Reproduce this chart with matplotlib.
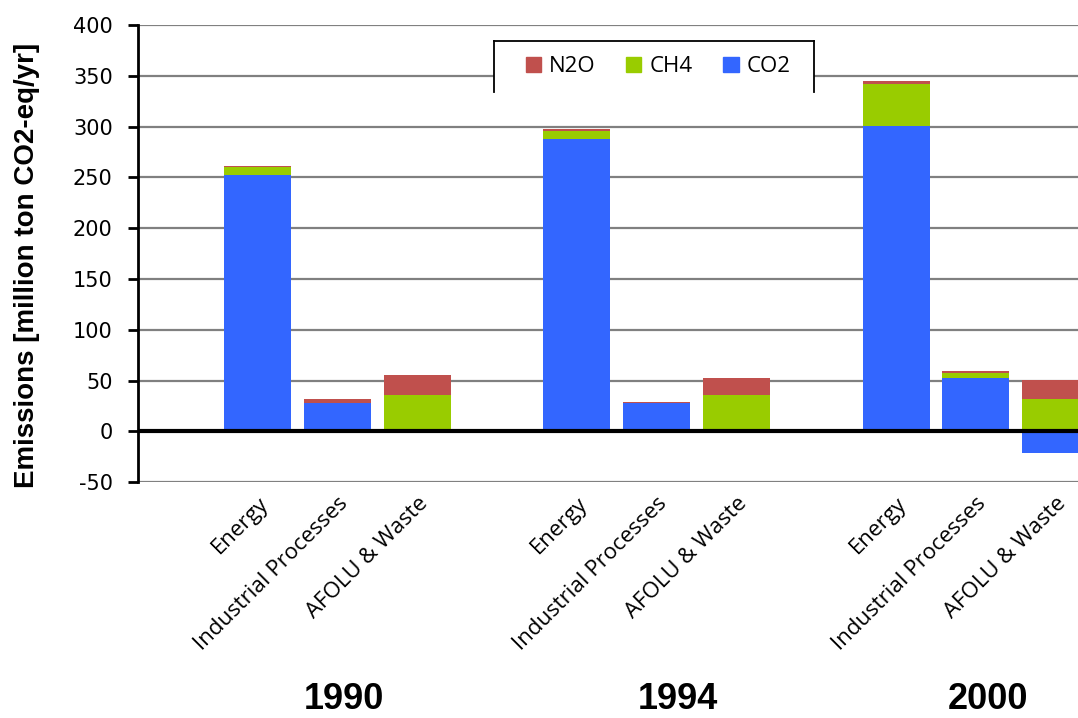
import numpy as np
import matplotlib
matplotlib.use('Agg')
import matplotlib.pyplot as plt
import matplotlib.transforms as mtransforms
from matplotlib.patches import Rectangle, Patch
from matplotlib.lines import Line2D
from matplotlib import font_manager

# data (million ton CO2-eq/yr)
years = ['1990', '1994', '2000']
sectors = ['Energy', 'Industrial Processes', 'AFOLU & Waste']
co2 = [252, 28.5, 0, 288, 28.5, 0, 301, 53, -21]
ch4 = [8, 0, 36, 8, 0, 35.5, 41, 5, 32]
n2o = [1, 3, 20, 2, 1, 17.5, 3, 2, 18.5]

c_n2o = '#C0504D'
c_ch4 = '#99CC00'
c_co2 = '#3366FF'

plt.rcParams['axes.unicode_minus'] = False

# one empty slot before every year group
slots = []
for g in range(len(years)):
    for s in range(len(sectors)):
        slots.append(g * 4 + 1 + s)
slots = np.array(slots)

co2 = np.array(co2, dtype=float)
ch4 = np.array(ch4, dtype=float)
n2o = np.array(n2o, dtype=float)
pos_base = np.clip(co2, 0, None)

installed = {f.name for f in font_manager.fontManager.ttflist}
if 'Liberation Sans Narrow' in installed:
    ylab_font, ylab_size = 'Liberation Sans Narrow', 25
else:
    ylab_font, ylab_size = 'Liberation Sans', 20

W, H = 1078, 718
fig = plt.figure(figsize=(W / 100, H / 100), dpi=100)
ax = fig.add_axes([138 / W, (H - 482.3) / H, 957.6 / W, 457.3 / H])

bw = 0.84
ax.bar(slots, co2, bw, color=c_co2, zorder=2)
ax.bar(slots, ch4, bw, bottom=pos_base, color=c_ch4, zorder=2)
ax.bar(slots, n2o, bw, bottom=pos_base + ch4, color=c_n2o, zorder=2)

ax.axhline(0, color='black', lw=3, zorder=4)

ax.set_xlim(-0.5, 11.5)
ax.set_ylim(-50, 400)
ax.set_yticks(np.arange(-50, 401, 50))
ax.yaxis.grid(True, color='#808080', lw=1.6)
ax.set_axisbelow(True)
for sp in ['top', 'right', 'bottom']:
    ax.spines[sp].set_visible(False)
ax.spines['left'].set_linewidth(2)
ax.tick_params(axis='y', direction='out', length=7.2, width=2, pad=11,
               labelsize=15, colors='black')
for t in ax.get_yticklabels():
    t.set_family('DejaVu Sans')

ax.set_xticks(slots)
ax.set_xticklabels(sectors * len(years), rotation=45, ha='right',
                   rotation_mode='anchor', fontsize=16, family='Open Sans')
ax.tick_params(axis='x', length=0, pad=8)

ax.set_ylabel('Emissions [million ton CO2-eq/yr]', fontsize=ylab_size,
              fontweight='bold', family=ylab_font)
ax.yaxis.set_label_coords((40 - 138) / 957.6, 0.475)

# year labels under each group
year_offsets = [0.08, 0.26, 0.15]
trans = mtransforms.blended_transform_factory(ax.transData, fig.transFigure)
for g, yr in enumerate(years):
    ax.text(g * 4 + 2 + year_offsets[g], 0.001, yr, transform=trans,
            ha='center', va='bottom', fontsize=26, fontweight='bold',
            family='Liberation Sans')

# legend box (open at the bottom, as in the source)
def fx(px):
    return px / W

def fy(py):
    return 1 - py / H

fig.add_artist(Rectangle((fx(494), fy(92)), fx(814) - fx(494), fy(40.7) - fy(92),
                         transform=fig.transFigure, facecolor='white',
                         edgecolor='none', zorder=2))
for xs, ys in [([494, 494], [92, 40.7]), ([494, 814], [40.7, 40.7]),
               ([814, 814], [40.7, 92])]:
    fig.add_artist(Line2D([fx(v) for v in xs], [fy(v) for v in ys],
                          transform=fig.transFigure, color='black', lw=1.3,
                          zorder=3))

handles = [Patch(color=c_n2o, label='N2O'),
           Patch(color=c_ch4, label='CH4'),
           Patch(color=c_co2, label='CO2')]
leg = fig.legend(handles=handles, loc='center', ncol=3, frameon=False,
                 bbox_to_anchor=(fx(658), fy(67)), bbox_transform=fig.transFigure,
                 prop={'family': 'Open Sans', 'size': 16},
                 handlelength=0.68, handleheight=0.68, handletextpad=0.35,
                 columnspacing=1.4)
leg.set_zorder(5)

fig.savefig('out.png', dpi=100)
